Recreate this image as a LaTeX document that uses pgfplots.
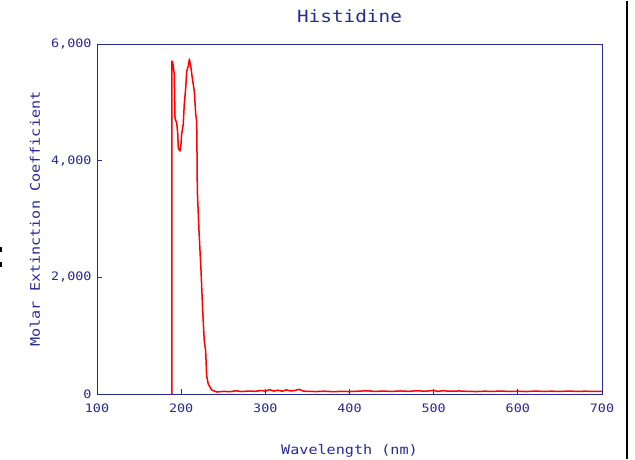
\documentclass[border=0pt]{standalone}
\usepackage{pgfplots}
\pgfplotsset{compat=1.18}
\usepackage{fontspec}
\newfontfamily\mono[FakeStretch=1.15]{DejaVu Sans Mono}
\definecolor{navy}{RGB}{40,40,150}
\begin{document}
\begin{tikzpicture}
\begin{axis}[
  scale only axis,
  width=505bp, height=350bp,
  xmin=100, xmax=700, ymin=0, ymax=6000,
  axis line style={navy, line width=0.9bp},
  xtick={100,200,...,700},
  ytick={0,2000,4000,6000},
  tick align=inside,
  xtick pos=bottom, ytick pos=left,
  major tick length=5bp,
  tick style={navy, line width=0.8bp},
  /pgf/number format/assume math mode=true,
  /pgf/number format/1000 sep={,},
  scaled y ticks=false,
  ticklabel style={font=\mono\fontsize{11.7}{12}\selectfont, text=navy},
  xticklabel style={yshift=-6bp},
  yticklabel style={xshift=-2bp},
  xlabel={Wavelength (nm)},
  ylabel={Molar Extinction Coefficient},
  label style={font=\mono\fontsize{13.2}{14}\selectfont, text=navy},
  xlabel style={at={(axis description cs:0.5,0)}, anchor=center, yshift=-57bp},
  ylabel style={at={(axis description cs:0,0.5)}, anchor=center, rotate=0, yshift=62bp},
  title={Histidine},
  title style={font=\mono\fontsize{16.9}{18}\selectfont, text=navy, at={(axis description cs:0.5,1)}, anchor=center, yshift=22bp},
]
\addplot[red, line width=1.5bp, line join=round] coordinates {
(189.0,0) (189.1,5708) (190.3,5650) (191.8,5485) (192.7,4731) (194.7,4645)
(195.9,4474) (196.6,4216) (198.6,4165) (199.8,4285) (200.6,4456)
(202.5,4628) (203.7,4971) (205.4,5245) (206.6,5536) (208.5,5622)
(209.7,5742) (211.7,5588) (213.2,5416) (215.6,5194) (217.3,4800)
(218.4,4680) (218.8,4165) (219.2,3480) (221.2,2794) (223.6,2108)
(225.6,1422) (227.5,900) (229.1,737) (230.3,308) (232.2,171)
(236.3,69) (242.2,34) (250,45) (258,40) (265,55) (272,42) (280,50)
(288,46) (295,60) (300,48) (305,75) (310,50) (315,65) (320,48) (325,70)
(330,52) (335,60) (340,80) (345,50) (350,45) (360,42) (370,48) (380,40)
(390,45) (400,42) (410,48) (420,55) (430,45) (440,50) (450,44) (460,52)
(470,46) (480,55) (490,48) (500,60) (505,45) (510,55) (520,48) (530,52)
(540,45) (550,42) (560,48) (570,45) (580,50) (590,44) (600,48)
(610,42) (620,50) (630,45) (640,48) (650,44) (660,50) (670,45)
(680,48) (690,44) (700,46)
};
\end{axis}
\pgfresetboundingbox
\path (current axis.south west) ++(-97bp,-65bp) rectangle ++(635bp,458bp);
\draw[black, line width=2bp] (current axis.south west) ++(530bp,-65bp) -- ++(0,458bp);
\fill[black] (current axis.south west) ++(-97bp,146.5bp) rectangle ++(2.5bp,-5bp);
\fill[black] (current axis.south west) ++(-97bp,131.5bp) rectangle ++(2.5bp,-5bp);
\end{tikzpicture}
\end{document}
